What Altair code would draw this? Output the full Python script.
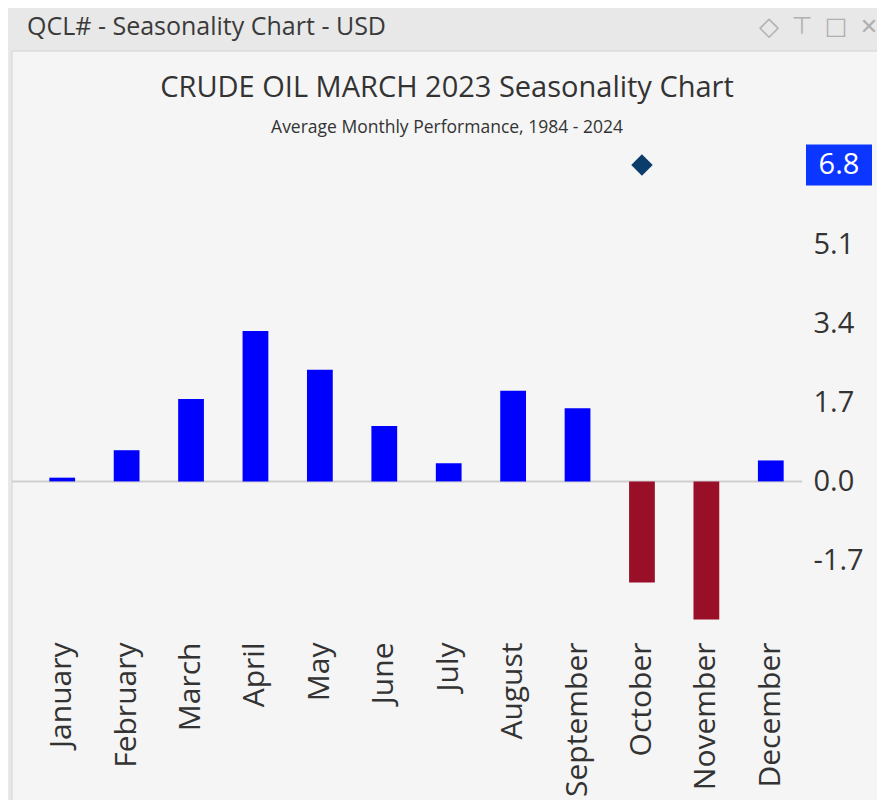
import altair as alt
import pandas as pd

# ---- data ----
months = ["January", "February", "March", "April", "May", "June",
          "July", "August", "September", "October", "November", "December"]
avg_perf = [0.08, 0.67, 1.77, 3.23, 2.40, 1.19, 0.39, 1.95, 1.57, -2.17, -2.97, 0.45]
y_ticks = [-1.7, 0.0, 1.7, 3.4, 5.1]
current_month = ["October"]
current_value = [6.8]

header_text = "QCL# - Seasonality Chart - USD"
chart_title = "CRUDE OIL MARCH 2023 Seasonality Chart"
chart_subtitle = "Average Monthly Performance, 1984 - 2024"

df = pd.DataFrame({"month": months, "value": avg_perf})
cur = pd.DataFrame({"month": current_month, "value": current_value})
one = pd.DataFrame({"k": [0]})

FONT = "Open Sans"
TXT = "#333333"

x_enc = alt.X("month:N", sort=months,
              scale=alt.Scale(domain=months, paddingInner=0.6, paddingOuter=0.3),
              axis=alt.Axis(title=None, labelAngle=-90, labelFontSize=30, labelFont=FONT,
                            labelColor=TXT, ticks=False, domain=False, labelPadding=21,
                            grid=False, zindex=1))
y_enc = alt.Y("value:Q",
              scale=alt.Scale(domain=[-3.0, 7.1], nice=False, zero=False),
              axis=alt.Axis(title=None, orient="right", values=y_ticks,
                            labelExpr="datum.value < 0 ? '-' + format(-datum.value, '.1f') : format(datum.value, '.1f')",
                            labelFontSize=29, labelFont=FONT, labelColor=TXT,
                            ticks=False, domain=False, grid=False, labelPadding=10,
                            zindex=1))

panel = alt.Chart(one).mark_rect(fill="#f5f5f5", stroke="#d4d4d4", strokeWidth=1).encode(
    x=alt.value(-18), x2=alt.value(850), y=alt.value(-100), y2=alt.value(700))

header = alt.Chart(one).mark_text(align="left", baseline="middle", fontSize=25,
                                  font=FONT, color="#3a3a3a").encode(
    x=alt.value(-3), y=alt.value(-124), text=alt.value(header_text))

title = alt.Chart(one).mark_text(align="center", baseline="alphabetic", fontSize=29,
                                 font=FONT, color=TXT).encode(
    x=alt.value(417), y=alt.value(-54), text=alt.value(chart_title))
subtitle = alt.Chart(one).mark_text(align="center", baseline="alphabetic", fontSize=17.5,
                                    font=FONT, color=TXT).encode(
    x=alt.value(417), y=alt.value(-18), text=alt.value(chart_subtitle))

icons = []
for ch, xp, fs in [("◇", 739, 26), ("⊤", 772, 24), ("□", 806, 24), ("✕", 839, 22)]:
    icons.append(alt.Chart(one).mark_text(align="center", baseline="middle", fontSize=fs,
                                          font="DejaVu Sans", color="#b0b0b0").encode(
        x=alt.value(xp), y=alt.value(-124), text=alt.value(ch)))

zero_rule = alt.Chart(one).mark_rule(color="#cfcfcf", strokeWidth=2).encode(
    y=alt.datum(0), x=alt.value(-18), x2=alt.value(772))

bars = alt.Chart(df).mark_bar().encode(
    x=x_enc, y=y_enc,
    color=alt.condition(alt.datum.value >= 0, alt.value("#0000ff"), alt.value("#990f28")))

diamond = alt.Chart(cur).mark_point(shape="diamond", filled=True, size=460,
                                    color="#0b3c6b", opacity=1).encode(
    x=alt.X("month:N", sort=months), y="value:Q")

box_path = "M-1,-0.62L1,-0.62L1,0.62L-1,0.62Z"
box = alt.Chart(cur).mark_point(shape=box_path, filled=True, size=4356,
                                color="#0a36ff", opacity=1).encode(
    x=alt.value(809), y="value:Q")
box_text = alt.Chart(cur).mark_text(color="white", fontSize=29, font=FONT,
                                    align="center", baseline="middle").encode(
    x=alt.value(809), y="value:Q", text=alt.Text("value:Q", format=".1f"))

chart = alt.layer(panel, header, title, subtitle, *icons, zero_rule, bars, diamond,
                  box, box_text).properties(
    width=773, height=470,
    autosize=alt.AutoSizeParams(type="none"),
    padding={"left": 22, "top": 143, "right": 74, "bottom": 179},
    background="#e8e8e8",
).configure_view(stroke=None)

chart.save("out.html", embed_options={"renderer": "svg", "actions": False})
